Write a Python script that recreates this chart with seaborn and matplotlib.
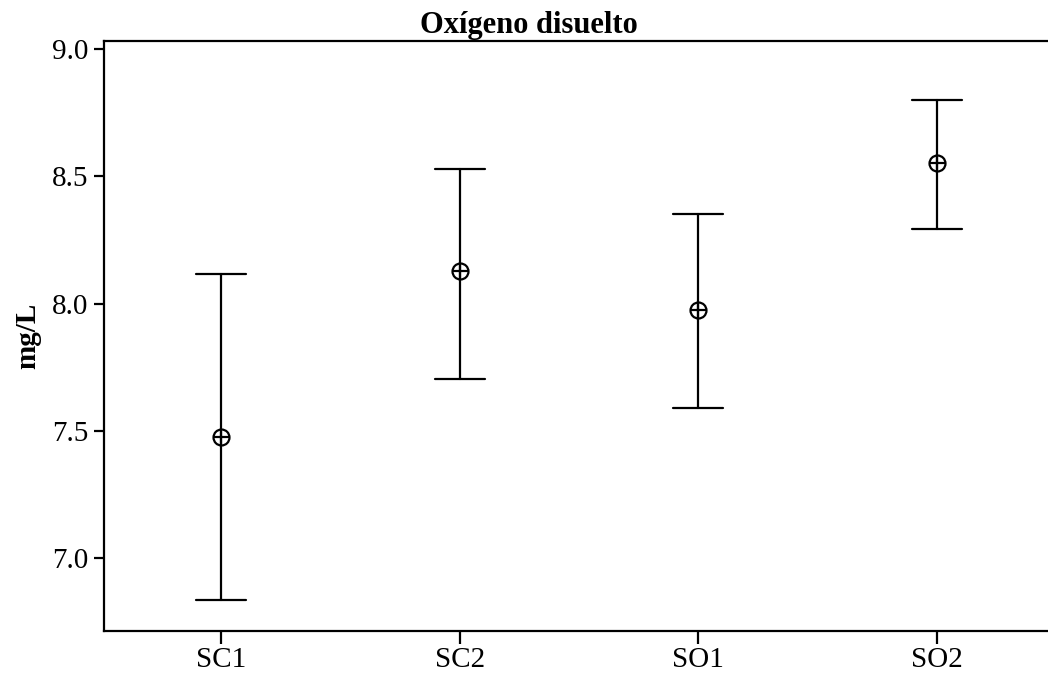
import matplotlib
matplotlib.use("Agg")
import matplotlib.pyplot as plt
import seaborn as sns
import pandas as pd

categories = ["SC1", "SC2", "SO1", "SO2"]
means = [7.475, 8.13, 7.975, 8.552]
lower = [6.833, 7.705, 7.588, 8.295]
upper = [8.117, 8.53, 8.352, 8.80]
yticks = [7.0, 7.5, 8.0, 8.5, 9.0]

rows = []
for c, lo, m, hi in zip(categories, lower, means, upper):
    for v in (lo, m, hi):
        rows.append({"grupo": c, "valor": v})
df = pd.DataFrame(rows)

sns.set_theme(style="white")
plt.rcParams["font.family"] = ["Liberation Serif", "DejaVu Serif"]

fig = plt.figure(figsize=(10.48, 6.75), dpi=100)
ax = fig.add_axes([104 / 1048, 1 - 630.5 / 675, 950 / 1048, (630.5 - 40.5) / 675])

sns.pointplot(data=df, x="grupo", y="valor", order=categories,
              estimator="median", errorbar=("pi", 100), capsize=0.21,
              color="black", linestyle="none", marker="o", markersize=11.5,
              markerfacecolor="none", markeredgewidth=1.6,
              err_kws={"linewidth": 1.6}, ax=ax)
sns.pointplot(data=df, x="grupo", y="valor", order=categories,
              estimator="median", errorbar=None,
              color="black", linestyle="none", marker="+", markersize=11.5,
              markeredgewidth=1.6, ax=ax)

ax.set_xlim(-0.49, 3.49)
ax.set_ylim(6.714, 9.035)
ax.set_yticks(yticks)
ax.set_yticklabels([f"{t:.1f}" for t in yticks])

for s in ("left", "top", "bottom", "right"):
    ax.spines[s].set_visible(True)
    ax.spines[s].set_color("black")
    ax.spines[s].set_linewidth(1.6)

ax.tick_params(axis="both", which="major", direction="out", color="black",
               width=1.6, labelsize=21, labelcolor="black",
               bottom=True, left=True, top=False, right=False)
ax.tick_params(axis="y", length=7, pad=4)
ax.tick_params(axis="x", length=9, pad=3)
ax.grid(False)

ax.set_xlabel("")
ax.set_ylabel("mg/L", fontsize=21, fontweight="bold", labelpad=8, color="black")
fig.text(529 / 1048, 1 - 33 / 675, "Oxígeno disuelto", fontsize=22,
         fontweight="bold", ha="center", va="baseline", color="black")

fig.savefig("out.png", dpi=100)
